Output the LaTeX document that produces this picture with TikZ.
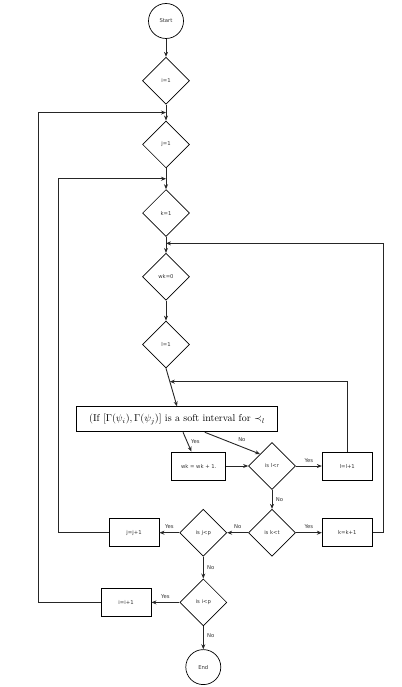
\documentclass[tikz,border=0pt]{standalone}
\usepackage{fontspec}
\setsansfont{DejaVu Sans}
\usetikzlibrary{arrows.meta, positioning, shapes.geometric, calc}

\begin{document}
\begin{tikzpicture}[
  x=1pt, y=1pt,
  decision/.style={diamond, draw, line width=0.7pt, aspect=1, inner sep=0pt,
                   minimum width=47pt, minimum height=47pt,
                   font=\sffamily\fontsize{5.3}{6}\selectfont, text=black!80},
  process/.style={rectangle, draw, line width=0.8pt, minimum width=50pt,
                  minimum height=28pt, inner sep=1pt,
                  font=\sffamily\fontsize{5.3}{6}\selectfont, text=black!80},
  term/.style={circle, draw, line width=0.7pt, minimum size=35pt, inner sep=0pt,
               font=\sffamily\fontsize{5.3}{6}\selectfont, text=black!80},
  arrow/.style={-{Stealth[length=5pt,width=4pt]}, line width=0.9pt, black!85},
  lbl/.style={font=\sffamily\fontsize{5.3}{6}\selectfont, text=black!80},
]
\useasboundingbox (0,0) rectangle (401,-687);

\node[term] (start) at (166,-21) {Start};

\node[decision, below=18pt of start] (i1)  {i=1};

\node[decision, below=16pt of i1] (j1)  {j=1};

\node[decision, below=21pt of j1] (k1)  {k=1};

\node[decision, below=16pt of k1] (wk0) {wk=0};

\node[decision, below=20pt of wk0] (l1)  {l=1};

\node[rectangle, draw, line width=0.9pt, minimum width=201pt, minimum height=25pt,
      below=38pt of l1, xshift=11pt] (soft)
  {\fontsize{10}{12}\selectfont (If $[\Gamma(\psi_i),\Gamma(\psi_j)]$ is a soft interval for $\prec_l$};

\node[decision] (lr) at (272,-466) {is l<r};

\node[process, left=22pt of lr, minimum width=54pt] (inc) {wk = wk + 1.};

\node[process, right=26pt of lr] (ll) {l=l+1};

\node[decision, below=19pt of lr] (kt) {is k<t};

\node[process, right=26pt of kt] (kk) {k=k+1};

\node[decision, left=21pt of kt] (jp) {is j<p};

\node[process, left=20pt of jp] (jj) {j=j+1};

\node[decision, below=22pt of jp] (ip) {is i<p};

\node[process, left=28pt of ip] (ii) {i=i+1};

\node[term, below=23pt of ip] (end) {End};

% ---- merge points on the main column ----
\coordinate (m1) at ($(i1.south)!0.5!(j1.north)$);
\coordinate (m2) at ($(j1.south)!0.5!(k1.north)$);
\coordinate (m3) at ($(k1.south)!0.4!(wk0.north)$);
\coordinate (m4) at ($(l1.south)!0.35!(soft.north)$);

% ---- connectors ----
\draw[arrow] (start) -- (i1);
\draw[arrow] (i1)    -- (j1);
\draw[arrow] (j1)    -- (k1);
\draw[arrow] (k1)    -- (wk0);
\draw[arrow] (wk0)   -- (l1);
\draw[arrow] (l1.south) -- (soft.north);
\draw[arrow] (soft.-65) -- node[lbl, midway, right] {Yes} (inc.117);
\draw[arrow] (soft.-25) -- node[lbl, pos=0.55, above right=-1pt] {No} (lr.north west);
\draw[arrow] (inc)   -- (lr);
\draw[arrow] (lr)    -- node[lbl, midway, above] {Yes} (ll);
\draw[arrow] (lr)    -- node[lbl, midway, right] {No} (kt);
\draw[arrow] (kt)    -- node[lbl, midway, above] {Yes} (kk);
\draw[arrow] (kt)    -- node[lbl, midway, above] {No} (jp);
\draw[arrow] (jp)    -- node[lbl, midway, above] {Yes} (jj);
\draw[arrow] (jp)    -- node[lbl, midway, right] {No} (ip);
\draw[arrow] (ip)    -- node[lbl, midway, above] {Yes} (ii);
\draw[arrow] (ip)    -- node[lbl, pos=0.4, right] {No} (end);

% ---- loops back ----
\draw[arrow] (ll.north) |- (m4);
\draw[arrow] (kk.east) -- ++(10.5,0) |- (m3);
\draw[arrow] (jj.west) -- ++(-50.5,0) |- (m2);
\draw[arrow] (ii.west) -- ++(-62.5,0) |- (m1);

\end{tikzpicture}
\end{document}
